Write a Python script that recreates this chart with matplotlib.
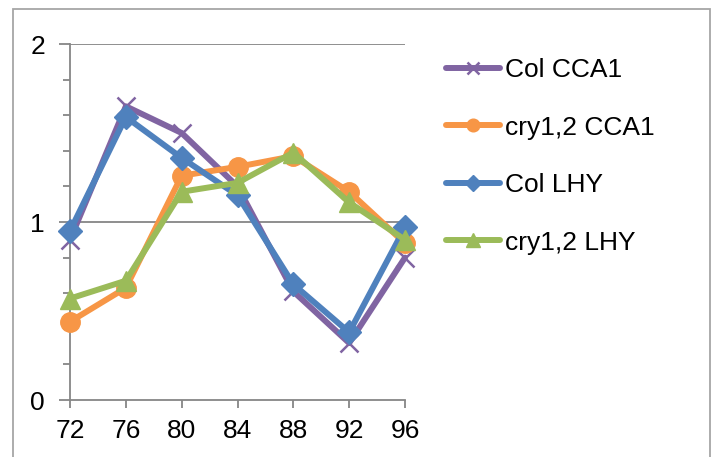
import matplotlib.pyplot as plt
from matplotlib.patches import Rectangle
from matplotlib.ticker import MultipleLocator

plt.rcParams["font.family"] = ["Liberation Sans", "DejaVu Sans"]

hours = ["72", "76", "80", "84", "88", "92", "96"]
col_cca1 = [0.90, 1.65, 1.50, 1.20, 0.61, 0.32, 0.80]
cry_cca1 = [0.44, 0.63, 1.26, 1.31, 1.37, 1.17, 0.88]
col_lhy = [0.95, 1.59, 1.36, 1.15, 0.65, 0.38, 0.97]
cry_lhy = [0.57, 0.67, 1.17, 1.22, 1.39, 1.11, 0.90]

grey = "#868686"

fig = plt.figure(figsize=(7.15, 4.57), dpi=100)
# outer chart border like Excel's chart area
fig.patches.append(Rectangle((13 / 715, -0.05), 697 / 715, 1 - 9 / 457 + 0.05,
                             transform=fig.transFigure, fill=False,
                             edgecolor="#a6a6a6", linewidth=1.3))

ax = fig.add_axes([70 / 715, 1 - 400 / 457, 335 / 715, 356 / 457])
x = range(len(hours))

ax.plot(x, col_cca1, color="#8064A2", lw=4.3, marker="x", ms=13, mew=1.8,
        label="Col CCA1", solid_capstyle="round", zorder=3, clip_on=False)
ax.plot(x, cry_cca1, color="#F79646", lw=4.3, marker="o", ms=14,
        label="cry1,2 CCA1", solid_capstyle="round", zorder=4, clip_on=False)
ax.plot(x, col_lhy, color="#4F81BD", lw=4.3, marker="D", ms=12.5,
        label="Col LHY", solid_capstyle="round", zorder=5, clip_on=False)
ax.plot(x, cry_lhy, color="#9BBB59", lw=4.3, marker="^", ms=15,
        label="cry1,2 LHY", solid_capstyle="round", zorder=6, clip_on=False)

ax.set_xlim(0, len(hours) - 1)
ax.set_ylim(0, 2)
ax.set_xticks(list(x))
ax.set_xticklabels(hours)
ax.set_yticks([0, 1, 2])
ax.set_yticklabels(["0", "1", "2"])
ax.yaxis.set_minor_locator(MultipleLocator(0.2))

for y in (1, 2):
    ax.axhline(y, color=grey, lw=1.3, zorder=1)

ax.spines["top"].set_visible(False)
ax.spines["right"].set_visible(False)
for s in ("left", "bottom"):
    ax.spines[s].set_color(grey)
    ax.spines[s].set_linewidth(1.3)
ax.spines["left"].set_zorder(2)

ax.tick_params(axis="y", which="major", length=8, width=1.3, color=grey,
               labelsize=19, pad=10)
ax.tick_params(axis="y", which="minor", length=5, width=1.3, color=grey)
ax.tick_params(axis="x", length=6, width=1.3, color=grey, labelsize=19, pad=8)

ax.legend(loc="upper left", bbox_to_anchor=(446 / 715, 1 - 58 / 457),
          bbox_transform=fig.transFigure, frameon=False, fontsize=19,
          borderaxespad=0, borderpad=0,
          handlelength=2.05, handletextpad=0.2, labelspacing=1.27,
          markerscale=0.65)

fig.savefig("out.png", dpi=100)
